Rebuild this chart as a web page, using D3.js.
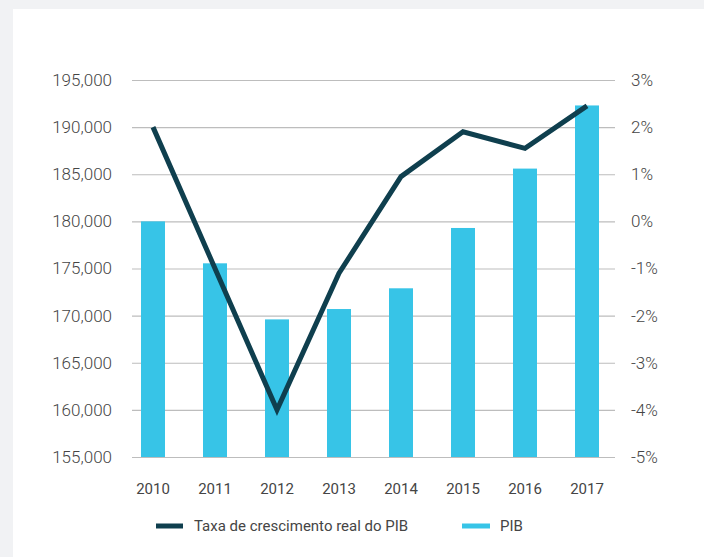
<!DOCTYPE html>
<html lang="pt">
<head>
<meta charset="utf-8">
<script src="https://d3js.org/d3.v7.min.js"></script>
<style>
  html, body { margin: 0; padding: 0; background: #f1f2f4; }
  svg { display: block; }
  text { font-family: Roboto, "Open Sans", sans-serif; fill: #454545; }
</style>
</head>
<body>
<script>
// dados
const anos = ["2010", "2011", "2012", "2013", "2014", "2015", "2016", "2017"];
const pib = [180000, 175550, 169600, 170700, 172900, 179300, 185600, 192300];
const taxa = [2.0, -1.0, -4.0, -1.1, 0.95, 1.9, 1.55, 2.45];
const ticksPib = [155000, 160000, 165000, 170000, 175000, 180000, 185000, 190000, 195000];
const ticksTaxa = [-5, -4, -3, -2, -1, 0, 1, 2, 3];
const legenda = ["Taxa de crescimento real do PIB", "PIB"];

const width = 704, height = 557;
const azul = "#37c4e7", escuro = "#0f3f4e";

const svg = d3.select("body").append("svg")
    .attr("width", width)
    .attr("height", height);

// painel branco
svg.append("rect")
    .attr("x", 13).attr("y", 9)
    .attr("width", width - 13).attr("height", height - 9)
    .attr("fill", "#fff");

var x = d3.scaleBand()
    .domain(anos)
    .range([122, 618])
    .paddingInner(0.613)
    .paddingOuter(0.3065);

var y = d3.scaleLinear()
    .domain([155000, 195000])
    .range([457, 80]);

var y2 = d3.scaleLinear()
    .domain([-5, 3])
    .range([457, 80]);

// grelha
svg.append("g")
    .selectAll("line")
    .data(ticksPib)
    .enter().append("line")
    .attr("x1", 132).attr("x2", 615)
    .attr("y1", d => y(d) + 0.5).attr("y2", d => y(d) + 0.5)
    .attr("stroke", "#bdbdbd")
    .attr("stroke-width", 1.2);

// eixo esquerdo
svg.append("g")
    .attr("transform", "translate(112,0)")
    .call(d3.axisLeft(y).tickValues(ticksPib).tickSize(0).tickPadding(0)
        .tickFormat(d3.format(",")))
    .call(g => g.select(".domain").remove())
    .selectAll("text")
    .style("font-size", "17px")
    .style("font-weight", 300)
    .attr("fill", "#454545");

// eixo direito
svg.append("g")
    .attr("transform", "translate(631,0)")
    .call(d3.axisRight(y2).tickValues(ticksTaxa).tickSize(0).tickPadding(0)
        .tickFormat(d => d + "%"))
    .call(g => g.select(".domain").remove())
    .selectAll("text")
    .style("font-size", "17px")
    .style("font-weight", 300)
    .attr("fill", "#454545");

// eixo x
svg.append("g")
    .attr("transform", "translate(0,483)")
    .call(d3.axisBottom(x).tickSize(0).tickPadding(0))
    .call(g => g.select(".domain").remove())
    .selectAll("text")
    .style("font-size", "15px")
    .attr("dy", "0.71em")
    .attr("fill", "#333");

// barras
svg.append("g")
    .selectAll("rect")
    .data(pib)
    .enter().append("rect")
    .attr("x", (d, i) => x(anos[i]))
    .attr("width", x.bandwidth())
    .attr("y", d => y(d))
    .attr("height", d => y(155000) - y(d))
    .attr("fill", azul);

// linha
var linha = d3.line()
    .x((d, i) => x(anos[i]) + x.bandwidth() / 2)
    .y(d => y2(d));

svg.append("path")
    .datum(taxa)
    .attr("d", linha)
    .attr("fill", "none")
    .attr("stroke", escuro)
    .attr("stroke-width", 5);

// legenda
var leg = svg.append("g");
leg.append("line")
    .attr("x1", 156).attr("x2", 183)
    .attr("y1", 526).attr("y2", 526)
    .attr("stroke", escuro).attr("stroke-width", 5);
leg.append("text")
    .attr("x", 194).attr("y", 531)
    .style("font-size", "15px")
    .attr("fill", "#333")
    .text(legenda[0]);
leg.append("line")
    .attr("x1", 462).attr("x2", 490)
    .attr("y1", 526).attr("y2", 526)
    .attr("stroke", azul).attr("stroke-width", 5);
leg.append("text")
    .attr("x", 500).attr("y", 531)
    .style("font-size", "15px")
    .attr("fill", "#333")
    .text(legenda[1]);
</script>
</body>
</html>
